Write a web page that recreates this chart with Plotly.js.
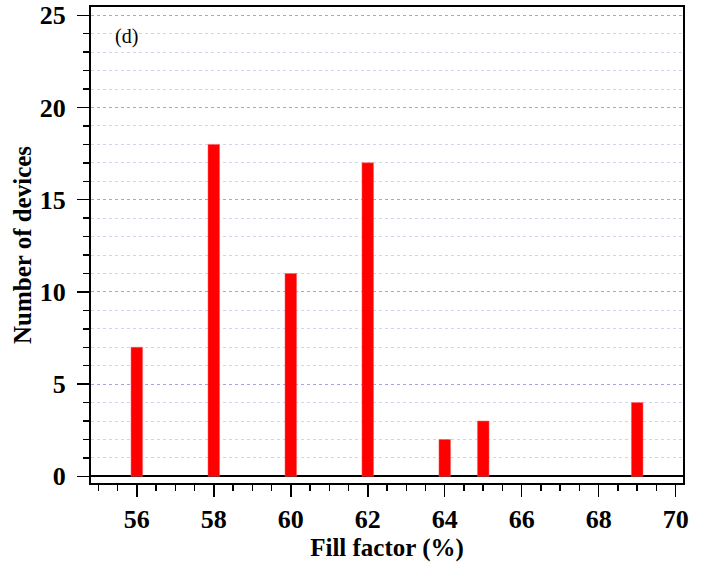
<!DOCTYPE html>
<html>
<head>
<meta charset="utf-8">
<script src="https://cdn.plot.ly/plotly-3.0.1.min.js"></script>
<style>html,body{margin:0;padding:0;background:#fff;}#chart{width:701px;height:563px;}</style>
</head>
<body>
<div id="chart"></div>
<script>
const fillFactor = [56, 58, 60, 62, 64, 65, 69];
const deviceCount = [7, 18, 11, 17, 2, 3, 4];
const xTickValues = [56, 58, 60, 62, 64, 66, 68, 70];
const xTickLabels = ['56', '58', '60', '62', '64', '66', '68', '70'];
const yTickValues = [0, 5, 10, 15, 20, 25];
const yTickLabels = ['0', '5', '10', '15', '20', '25'];

const serif = '"Liberation Serif", "Times New Roman", serif';

const trace = {
  type: 'bar',
  x: fillFactor,
  y: deviceCount,
  width: 0.3,
  marker: {color: '#ff0000', line: {color: '#ff5a5a', width: 0.5}},
  hoverinfo: 'x+y'
};

const layout = {
  width: 701,
  height: 563,
  margin: {l: 91, r: 18, t: 7, b: 80},
  paper_bgcolor: '#ffffff',
  plot_bgcolor: '#ffffff',
  showlegend: false,
  font: {family: serif, color: '#000'},
  xaxis: {
    range: [54.81, 70.19],
    tickmode: 'array',
    tickvals: xTickValues,
    ticktext: xTickLabels,
    ticks: 'outside',
    ticklen: 12,
    tickwidth: 1.5,
    tickcolor: '#000',
    showline: true,
    linecolor: '#000',
    linewidth: 2,
    mirror: true,
    showgrid: false,
    zeroline: false,
    tickfont: {family: serif, size: 26, color: '#000', weight: 700},
    ticklabelstandoff: 0,
    minor: {dtick: 0.5, tick0: 55, ticks: 'outside', ticklen: 6, tickwidth: 1.5, tickcolor: '#000', showgrid: false},
    title: {text: 'Fill factor (%)', font: {family: serif, size: 25, color: '#000', weight: 700}, standoff: 3}
  },
  yaxis: {
    range: [-0.36, 25.45],
    tickmode: 'array',
    tickvals: yTickValues,
    ticktext: yTickLabels,
    ticks: 'outside',
    ticklen: 12,
    tickwidth: 1.5,
    tickcolor: '#000',
    showline: true,
    linecolor: '#000',
    linewidth: 2,
    mirror: true,
    showgrid: true,
    gridcolor: '#a4a4e4',
    griddash: 'dot',
    gridwidth: 1,
    zeroline: true,
    zerolinecolor: '#000',
    zerolinewidth: 2,
    tickfont: {family: serif, size: 26, color: '#000', weight: 700},
    ticklabelstandoff: 6,
    minor: {dtick: 1, tick0: 0, ticks: 'outside', ticklen: 6, tickwidth: 1.5, tickcolor: '#000', showgrid: true, gridcolor: '#d2d2f6', griddash: 'dot', gridwidth: 1},
    title: {text: 'Number of devices', font: {family: serif, size: 25, color: '#000', weight: 700}, standoff: 1}
  },
  annotations: [{
    text: '(d)',
    xref: 'paper', yref: 'paper',
    x: 0.038, y: 0.937,
    xanchor: 'left', yanchor: 'middle',
    showarrow: false,
    font: {family: serif, size: 20, color: '#000'}
  }]
};

Plotly.newPlot('chart', [trace], layout, {displayModeBar: false, staticPlot: true});
</script>
</body>
</html>
